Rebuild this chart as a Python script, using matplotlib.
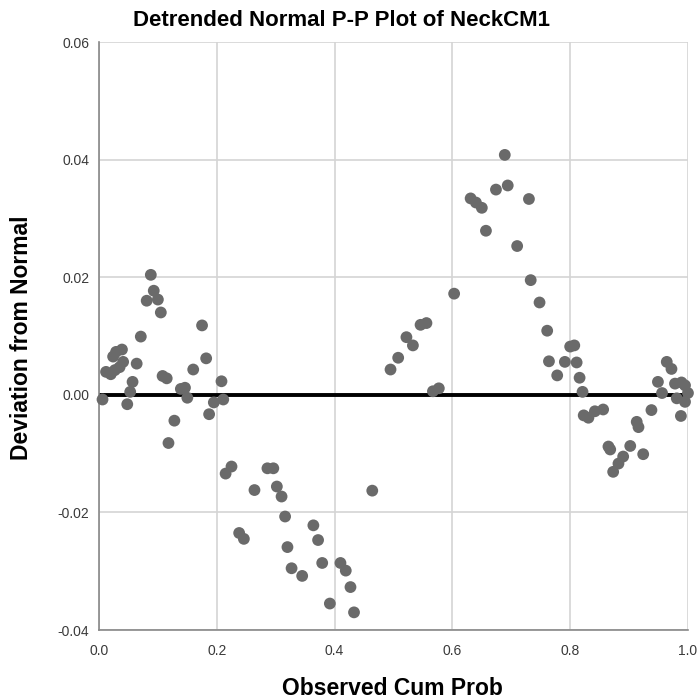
import matplotlib.pyplot as plt

plt.rcParams['font.family'] = ['Liberation Sans', 'DejaVu Sans']

# Observed cumulative probability (x) and deviation from normal (y)
obs_cum_prob = [
    0.006, 0.012, 0.020, 0.024, 0.027, 0.029, 0.035, 0.039, 0.041, 0.048,
    0.053, 0.057, 0.064, 0.071, 0.081, 0.088, 0.093, 0.100, 0.105, 0.108,
    0.115, 0.118, 0.128, 0.139, 0.146, 0.150, 0.160, 0.175, 0.182, 0.187,
    0.195, 0.208, 0.211, 0.215, 0.225, 0.238, 0.246, 0.264, 0.286, 0.296,
    0.302, 0.310, 0.316, 0.320, 0.327, 0.345, 0.364, 0.372, 0.379, 0.392,
    0.410, 0.419, 0.427, 0.433, 0.464, 0.495, 0.508, 0.522, 0.533, 0.546,
    0.556, 0.567, 0.577, 0.603, 0.631, 0.640, 0.650, 0.657, 0.674, 0.689,
    0.694, 0.710, 0.730, 0.733, 0.748, 0.761, 0.764, 0.778, 0.791, 0.800,
    0.807, 0.811, 0.816, 0.821, 0.823, 0.831, 0.842, 0.856, 0.865, 0.868,
    0.873, 0.882, 0.890, 0.902, 0.913, 0.916, 0.924, 0.938, 0.949, 0.956,
    0.964, 0.972, 0.978, 0.981, 0.988, 0.989, 0.995, 0.995, 1.000,
]
deviation = [
    -0.0008, 0.0039, 0.0035, 0.0065, 0.0042, 0.0073, 0.0047, 0.0077, 0.0056, -0.0016,
    0.0005, 0.0022, 0.0053, 0.0099, 0.0160, 0.0204, 0.0177, 0.0162, 0.0140, 0.0032,
    0.0028, -0.0082, -0.0044, 0.0010, 0.0012, -0.0005, 0.0043, 0.0118, 0.0062, -0.0033,
    -0.0013, 0.0023, -0.0008, -0.0134, -0.0122, -0.0235, -0.0245, -0.0162, -0.0125, -0.0125,
    -0.0156, -0.0173, -0.0207, -0.0259, -0.0295, -0.0308, -0.0222, -0.0247, -0.0286, -0.0355,
    -0.0286, -0.0299, -0.0327, -0.0370, -0.0163, 0.0043, 0.0063, 0.0098, 0.0084, 0.0119,
    0.0122, 0.0006, 0.0011, 0.0172, 0.0334, 0.0327, 0.0318, 0.0279, 0.0349, 0.0408,
    0.0356, 0.0253, 0.0333, 0.0195, 0.0157, 0.0109, 0.0057, 0.0033, 0.0056, 0.0082,
    0.0084, 0.0055, 0.0029, 0.0005, -0.0035, -0.0039, -0.0028, -0.0025, -0.0088, -0.0093,
    -0.0131, -0.0117, -0.0105, -0.0087, -0.0046, -0.0055, -0.0101, -0.0026, 0.0022, 0.0003,
    0.0056, 0.0044, 0.0019, -0.0006, -0.0036, 0.0021, 0.0016, -0.0012, 0.0003,
]

x_ticks = [0.0, 0.2, 0.4, 0.6, 0.8, 1.0]
y_ticks = [-0.04, -0.02, 0.00, 0.02, 0.04, 0.06]

fig = plt.figure(figsize=(7, 7), dpi=100)
ax = fig.add_axes([0.1414, 0.1, 0.8414, 0.84])

ax.grid(True, color='#d4d4d4', linewidth=1.2)
ax.set_axisbelow(True)
ax.axhline(0, color='black', linewidth=2.8, zorder=2)
ax.scatter(obs_cum_prob, deviation, s=72, color='#6a6a6a', edgecolors='none',
           zorder=3, clip_on=False)

ax.set_xlim(0, 1)
ax.set_ylim(-0.04, 0.06)
ax.set_xticks(x_ticks)
ax.set_yticks(y_ticks)
ax.set_xticklabels([f'{v:.1f}' for v in x_ticks])
ax.set_yticklabels([f'{v:.2f}' for v in y_ticks])
ax.tick_params(length=0, labelsize=10, labelcolor='#3a3a3a')
ax.tick_params(axis='x', pad=10)
ax.tick_params(axis='y', pad=7)

for side in ['top', 'right']:
    ax.spines[side].set_visible(False)
for side in ['left', 'bottom']:
    ax.spines[side].set_color('#888888')
    ax.spines[side].set_linewidth(1.2)

# labels placed in figure coordinates to match the reference layout
fig.text(0.561, 0.016, 'Observed Cum Prob', fontsize=16.5, fontweight='bold',
         ha='center', va='center')
fig.text(0.031, 0.517, 'Deviation from Normal', fontsize=16.5, fontweight='bold',
         ha='center', va='center', rotation=90)
fig.text(0.488, 0.971, 'Detrended Normal P-P Plot of NeckCM1', fontsize=16,
         fontweight='bold', ha='center', va='center')

plt.savefig('out.png', dpi=100)
